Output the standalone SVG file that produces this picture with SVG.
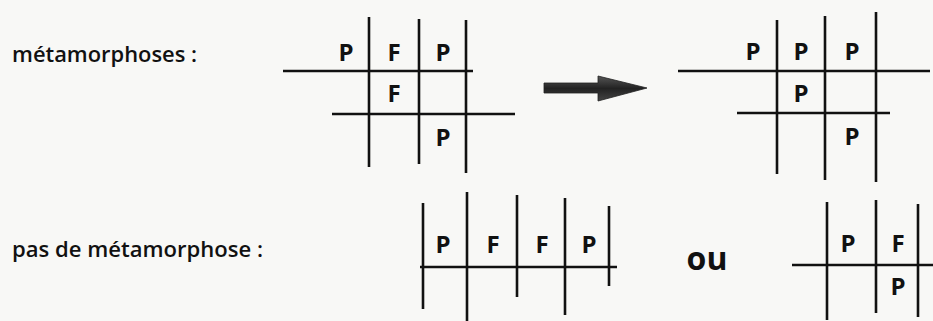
<svg xmlns="http://www.w3.org/2000/svg" width="933" height="321" viewBox="0 0 933 321">
<style>
.bg{fill:#f8f8f6}
.ln{stroke:#111;stroke-width:2.6;stroke-linecap:butt;fill:none}
.lbl{font-family:"Open Sans","Noto Sans","Liberation Sans",sans-serif;font-weight:600;font-size:22px;fill:#111}
.cell{font-family:"Open Sans","Noto Sans","Liberation Sans",sans-serif;font-weight:700;font-size:24px;fill:#111;text-anchor:middle}
.ou{font-family:"Open Sans","Noto Sans","Liberation Sans",sans-serif;font-weight:700;font-size:32px;fill:#111;text-anchor:middle}
</style>
<defs>
<linearGradient id="ag" x1="0" y1="0" x2="0" y2="1">
<stop offset="0" stop-color="#555"/>
<stop offset="0.5" stop-color="#222"/>
<stop offset="1" stop-color="#444"/>
</linearGradient>
</defs>
<rect class="bg" x="0" y="0" width="933" height="321"/>

<g id="label-metamorphoses">
<text class="lbl" x="12" y="62" textLength="185" lengthAdjust="spacingAndGlyphs">métamorphoses :</text>
</g>
<g id="label-pas">
<text class="lbl" x="12" y="257" textLength="251" lengthAdjust="spacingAndGlyphs">pas de métamorphose :</text>
</g>

<g id="grid-before">
<line class="ln" x1="369" y1="17" x2="369" y2="167"/>
<line class="ln" x1="419" y1="19" x2="419" y2="164"/>
<line class="ln" x1="466" y1="20" x2="466" y2="173"/>
<line class="ln" x1="283" y1="71" x2="473" y2="71"/>
<line class="ln" x1="332" y1="114" x2="515" y2="114"/>
<text class="cell" x="346" y="61">P</text>
<text class="cell" x="394" y="61">F</text>
<text class="cell" x="443" y="61">P</text>
<text class="cell" x="394" y="102">F</text>
<text class="cell" x="443" y="146">P</text>
</g>

<g id="connectors">
<path d="M544,83 L598,83 L598,76 L647,88 L598,101 L598,93 L544,93 Z" fill="url(#ag)" stroke="#222" stroke-width="0.8"/>
</g>

<g id="grid-after">
<line class="ln" x1="777" y1="20" x2="777" y2="174"/>
<line class="ln" x1="825" y1="16" x2="825" y2="180"/>
<line class="ln" x1="876" y1="12" x2="876" y2="182"/>
<line class="ln" x1="678" y1="71" x2="930" y2="71"/>
<line class="ln" x1="737" y1="113" x2="890" y2="113"/>
<text class="cell" x="753" y="60">P</text>
<text class="cell" x="801" y="60">P</text>
<text class="cell" x="852" y="60">P</text>
<text class="cell" x="801" y="102">P</text>
<text class="cell" x="852" y="145">P</text>
</g>

<g id="grid-row">
<line class="ln" x1="423" y1="203" x2="423" y2="309"/>
<line class="ln" x1="467" y1="192" x2="467" y2="321"/>
<line class="ln" x1="517" y1="195" x2="517" y2="297"/>
<line class="ln" x1="565" y1="198" x2="565" y2="315"/>
<line class="ln" x1="609" y1="206" x2="609" y2="286"/>
<line class="ln" x1="420" y1="267" x2="617" y2="267"/>
<text class="cell" x="443" y="253">P</text>
<text class="cell" x="493" y="253">F</text>
<text class="cell" x="542" y="253">F</text>
<text class="cell" x="589" y="253">P</text>
</g>

<g id="label-ou">
<text class="ou" x="707" y="270">ou</text>
</g>

<g id="grid-alt">
<line class="ln" x1="827" y1="202" x2="827" y2="320"/>
<line class="ln" x1="876" y1="200" x2="876" y2="313"/>
<line class="ln" x1="918" y1="204" x2="918" y2="317"/>
<line class="ln" x1="792" y1="265" x2="933" y2="265"/>
<text class="cell" x="848" y="252">P</text>
<text class="cell" x="898" y="252">F</text>
<text class="cell" x="898" y="295">P</text>
</g>
</svg>
